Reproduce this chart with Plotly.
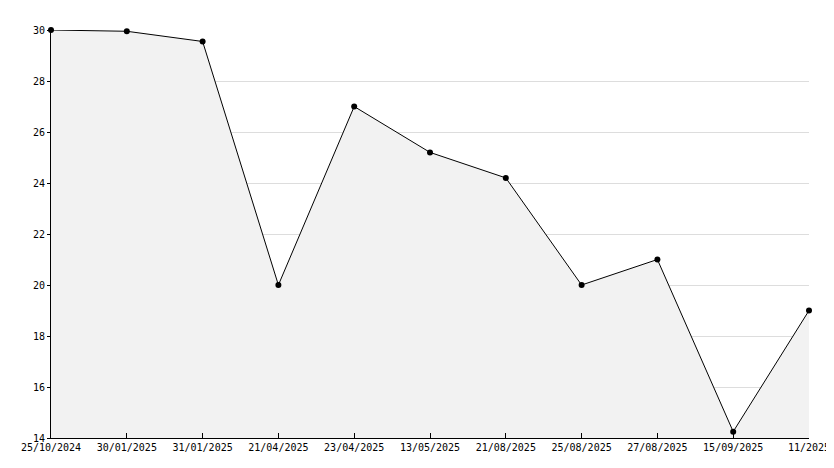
import plotly.graph_objects as go

dates = ["25/10/2024", "30/01/2025", "31/01/2025", "21/04/2025", "23/04/2025", "13/05/2025",
         "21/08/2025", "25/08/2025", "27/08/2025", "15/09/2025", "11/2025"]
values = [30, 29.95, 29.55, 20, 27, 25.2, 24.2, 20, 21, 14.25, 19]
yticks = [14, 16, 18, 20, 22, 24, 26, 28, 30]

fig = go.Figure(go.Scatter(
    x=list(range(len(dates))), y=values, mode="lines+markers",
    line=dict(color="black", width=1), marker=dict(color="black", size=6, symbol="circle"),
    fill="tozeroy", fillcolor="#f2f2f2", cliponaxis=False))

fig.update_layout(
    width=834, height=468, margin=dict(l=43, r=33, t=22, b=38),
    plot_bgcolor="white", paper_bgcolor="white", showlegend=False,
    font=dict(family="DejaVu Sans Mono", size=10, color="black"))
fig.update_xaxes(tickvals=list(range(len(dates))), ticktext=dates, range=[0, len(dates) - 1],
                 showgrid=False, showline=True, linecolor="black", ticks="inside",
                 ticklen=5, tickcolor="black", zeroline=False)
fig.update_yaxes(tickvals=yticks, range=[14, 30], showgrid=True, gridcolor="#dddddd",
                 showline=True, linecolor="black", ticks="outside", ticklen=3,
                 tickcolor="black", zeroline=False)
fig.write_html("out.html")
